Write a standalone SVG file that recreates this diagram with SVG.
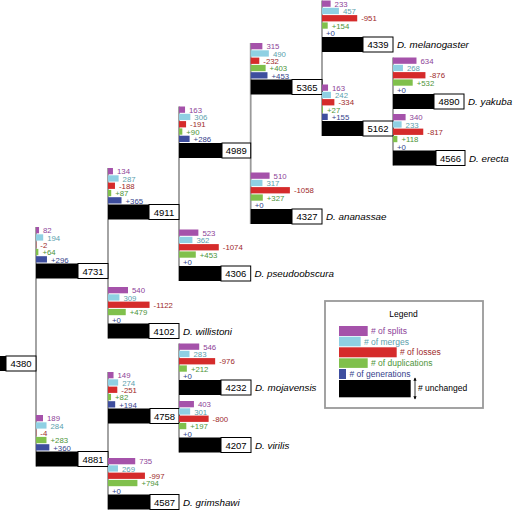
<svg xmlns="http://www.w3.org/2000/svg" width="513" height="510" viewBox="0 0 513 510">
<defs>
<style>
text{font-family:"Liberation Sans",Arial,sans-serif}
.lb{font-size:7.8px}
.num{font-size:9.5px;text-anchor:middle;fill:#000}
.sp{font-size:9.8px;font-style:italic;fill:#000}
.bs{fill:#a552aa}.bm{fill:#8fd0e3}.bl{fill:#d52b2b}.bd{fill:#80c04c}.bg{fill:#3e4e9e}
.ts{fill:#8d3f98}.tm{fill:#5b9fae}.tl{fill:#9e2a2a}.td{fill:#4e9438}.tg{fill:#353f8c}
.blk{fill:#000}
.box{fill:#fff;stroke:#000;stroke-width:1}
.conn line{stroke:#9a9a9a;stroke-width:1.8}
.lg{font-size:8.5px}
</style>
<marker id="ah" viewBox="0 0 6 6" refX="5" refY="3" markerWidth="4" markerHeight="4" orient="auto-start-reverse"><path d="M0,0 L6,3 L0,6 z" fill="#000"/></marker>
</defs>
<rect width="513" height="510" fill="#fff"/>

<g id="connectors" class="conn">
<line x1="36" y1="227" x2="36" y2="466.5"/>
<line x1="108" y1="168" x2="108" y2="338.5"/>
<line x1="108" y1="372" x2="108" y2="509.5"/>
<line x1="179" y1="106.5" x2="179" y2="281"/>
<line x1="179" y1="343.5" x2="179" y2="452.5"/>
<line x1="250.7" y1="43" x2="250.7" y2="224"/>
<line x1="322" y1="0.5" x2="322" y2="136"/>
<line x1="393" y1="57.5" x2="393" y2="165.5"/>
</g>

<g id="n4380" transform="translate(0,356)">
<rect class="blk" x="0" y="0" width="6" height="15"/>
<rect class="box" x="6" y="0" width="30" height="15"/>
<text class="num" x="21" y="11">4380</text>
</g>

<g id="n4731" transform="translate(36,227)">
<rect class="bs" x="0" y="0" width="3.04" height="6.3"/><text class="lb ts" x="7" y="6.3">82</text>
<rect class="bm" x="0" y="7.3" width="7.19" height="6.3"/><text class="lb tm" x="11.2" y="13.6">194</text>
<rect class="bl" x="0" y="14.6" width="0.3" height="6.3"/><text class="lb tl" x="4.3" y="20.9">-2</text>
<rect class="bd" x="0" y="21.9" width="2.37" height="6.3"/><text class="lb td" x="6.4" y="28.2">+64</text>
<rect class="bg" x="0" y="29.2" width="10.96" height="6.3"/><text class="lb tg" x="15" y="35.5">+296</text>
<rect class="blk" x="0" y="36.5" width="42" height="15"/>
<rect class="box" x="42" y="36.5" width="30" height="15"/>
<text class="num" x="57" y="47.5">4731</text>
</g>

<g id="n4881" transform="translate(36,415)">
<rect class="bs" x="0" y="0" width="7" height="6.3"/><text class="lb ts" x="11" y="6.3">189</text>
<rect class="bm" x="0" y="7.3" width="10.52" height="6.3"/><text class="lb tm" x="14.5" y="13.6">284</text>
<rect class="bl" x="0" y="14.6" width="0.3" height="6.3"/><text class="lb tl" x="4.3" y="20.9">-4</text>
<rect class="bd" x="0" y="21.9" width="10.48" height="6.3"/><text class="lb td" x="14.5" y="28.2">+283</text>
<rect class="bg" x="0" y="29.2" width="13.33" height="6.3"/><text class="lb tg" x="17.3" y="35.5">+360</text>
<rect class="blk" x="0" y="36.5" width="42" height="15"/>
<rect class="box" x="42" y="36.5" width="30" height="15"/>
<text class="num" x="57" y="47.5">4881</text>
</g>

<g id="n4911" transform="translate(108,168)">
<rect class="bs" x="0" y="0" width="4.96" height="6.3"/><text class="lb ts" x="9" y="6.3">134</text>
<rect class="bm" x="0" y="7.3" width="10.63" height="6.3"/><text class="lb tm" x="14.6" y="13.6">287</text>
<rect class="bl" x="0" y="14.6" width="6.96" height="6.3"/><text class="lb tl" x="11" y="20.9">-188</text>
<rect class="bd" x="0" y="21.9" width="3.22" height="6.3"/><text class="lb td" x="7.2" y="28.2">+87</text>
<rect class="bg" x="0" y="29.2" width="13.52" height="6.3"/><text class="lb tg" x="17.5" y="35.5">+365</text>
<rect class="blk" x="0" y="36.5" width="41" height="15"/>
<rect class="box" x="41" y="36.5" width="30" height="15"/>
<text class="num" x="56" y="47.5">4911</text>
</g>

<g id="n4102" transform="translate(108,287)">
<rect class="bs" x="0" y="0" width="20" height="6.3"/><text class="lb ts" x="24" y="6.3">540</text>
<rect class="bm" x="0" y="7.3" width="11.44" height="6.3"/><text class="lb tm" x="15.4" y="13.6">309</text>
<rect class="bl" x="0" y="14.6" width="41.56" height="6.3"/><text class="lb tl" x="45.6" y="20.9">-1122</text>
<rect class="bd" x="0" y="21.9" width="17.74" height="6.3"/><text class="lb td" x="21.7" y="28.2">+479</text>
<text class="lb tg" x="4" y="35.5">+0</text>
<rect class="blk" x="0" y="36.5" width="41" height="15"/>
<rect class="box" x="41" y="36.5" width="30" height="15"/>
<text class="num" x="56" y="47.5">4102</text>
<text class="sp" x="75" y="47.5">D. willistoni</text>
</g>

<g id="n4758" transform="translate(108,372)">
<rect class="bs" x="0" y="0" width="5.52" height="6.3"/><text class="lb ts" x="9.5" y="6.3">149</text>
<rect class="bm" x="0" y="7.3" width="10.15" height="6.3"/><text class="lb tm" x="14.2" y="13.6">274</text>
<rect class="bl" x="0" y="14.6" width="9.3" height="6.3"/><text class="lb tl" x="13.3" y="20.9">-251</text>
<rect class="bd" x="0" y="21.9" width="3.04" height="6.3"/><text class="lb td" x="7" y="28.2">+82</text>
<rect class="bg" x="0" y="29.2" width="7.19" height="6.3"/><text class="lb tg" x="11.2" y="35.5">+194</text>
<rect class="blk" x="0" y="36.5" width="42" height="15"/>
<rect class="box" x="42" y="36.5" width="29" height="15"/>
<text class="num" x="56.5" y="47.5">4758</text>
</g>

<g id="n4587" transform="translate(108,458)">
<rect class="bs" x="0" y="0" width="27.22" height="6.3"/><text class="lb ts" x="31.2" y="6.3">735</text>
<rect class="bm" x="0" y="7.3" width="9.96" height="6.3"/><text class="lb tm" x="14" y="13.6">269</text>
<rect class="bl" x="0" y="14.6" width="36.93" height="6.3"/><text class="lb tl" x="40.9" y="20.9">-997</text>
<rect class="bd" x="0" y="21.9" width="29.41" height="6.3"/><text class="lb td" x="33.4" y="28.2">+794</text>
<text class="lb tg" x="4" y="35.5">+0</text>
<rect class="blk" x="0" y="36.5" width="42" height="15"/>
<rect class="box" x="42" y="36.5" width="29" height="15"/>
<text class="num" x="56.5" y="47.5">4587</text>
<text class="sp" x="75" y="47.5">D. grimshawi</text>
</g>

<g id="n4989" transform="translate(179,106.5)">
<rect class="bs" x="0" y="0" width="6.04" height="6.3"/><text class="lb ts" x="10" y="6.3">163</text>
<rect class="bm" x="0" y="7.3" width="11.33" height="6.3"/><text class="lb tm" x="15.3" y="13.6">306</text>
<rect class="bl" x="0" y="14.6" width="7.07" height="6.3"/><text class="lb tl" x="11.1" y="20.9">-191</text>
<rect class="bd" x="0" y="21.9" width="3.33" height="6.3"/><text class="lb td" x="7.3" y="28.2">+90</text>
<rect class="bg" x="0" y="29.2" width="10.59" height="6.3"/><text class="lb tg" x="14.6" y="35.5">+286</text>
<rect class="blk" x="0" y="36.5" width="43" height="15"/>
<rect class="box" x="43" y="36.5" width="28.7" height="15"/>
<text class="num" x="57.35" y="47.5">4989</text>
</g>

<g id="n4306" transform="translate(179,229.5)">
<rect class="bs" x="0" y="0" width="19.37" height="6.3"/><text class="lb ts" x="23.4" y="6.3">523</text>
<rect class="bm" x="0" y="7.3" width="13.41" height="6.3"/><text class="lb tm" x="17.4" y="13.6">362</text>
<rect class="bl" x="0" y="14.6" width="39.78" height="6.3"/><text class="lb tl" x="43.8" y="20.9">-1074</text>
<rect class="bd" x="0" y="21.9" width="16.78" height="6.3"/><text class="lb td" x="20.8" y="28.2">+453</text>
<text class="lb tg" x="4" y="35.5">+0</text>
<rect class="blk" x="0" y="36.5" width="42" height="15"/>
<rect class="box" x="42" y="36.5" width="29.7" height="15"/>
<text class="num" x="56.85" y="47.5">4306</text>
<text class="sp" x="75.5" y="47.5">D. pseudoobscura</text>
</g>

<g id="n4232" transform="translate(179,343.5)">
<rect class="bs" x="0" y="0" width="20.22" height="6.3"/><text class="lb ts" x="24.2" y="6.3">546</text>
<rect class="bm" x="0" y="7.3" width="10.48" height="6.3"/><text class="lb tm" x="14.5" y="13.6">283</text>
<rect class="bl" x="0" y="14.6" width="36.15" height="6.3"/><text class="lb tl" x="40.2" y="20.9">-976</text>
<rect class="bd" x="0" y="21.9" width="7.85" height="6.3"/><text class="lb td" x="11.9" y="28.2">+212</text>
<text class="lb tg" x="4" y="35.5">+0</text>
<rect class="blk" x="0" y="36.5" width="42" height="15"/>
<rect class="box" x="42" y="36.5" width="30" height="15"/>
<text class="num" x="57" y="47.5">4232</text>
<text class="sp" x="76" y="47.5">D. mojavensis</text>
</g>

<g id="n4207" transform="translate(179,401)">
<rect class="bs" x="0" y="0" width="14.93" height="6.3"/><text class="lb ts" x="18.9" y="6.3">403</text>
<rect class="bm" x="0" y="7.3" width="11.15" height="6.3"/><text class="lb tm" x="15.2" y="13.6">301</text>
<rect class="bl" x="0" y="14.6" width="29.63" height="6.3"/><text class="lb tl" x="33.6" y="20.9">-800</text>
<rect class="bd" x="0" y="21.9" width="7.3" height="6.3"/><text class="lb td" x="11.3" y="28.2">+197</text>
<text class="lb tg" x="4" y="35.5">+0</text>
<rect class="blk" x="0" y="36.5" width="42" height="15"/>
<rect class="box" x="42" y="36.5" width="30" height="15"/>
<text class="num" x="57" y="47.5">4207</text>
<text class="sp" x="76" y="47.5">D. virilis</text>
</g>

<g id="n5365" transform="translate(250.7,43)">
<rect class="bs" x="0" y="0" width="11.67" height="6.3"/><text class="lb ts" x="15.7" y="6.3">315</text>
<rect class="bm" x="0" y="7.3" width="18.15" height="6.3"/><text class="lb tm" x="22.2" y="13.6">490</text>
<rect class="bl" x="0" y="14.6" width="8.59" height="6.3"/><text class="lb tl" x="12.6" y="20.9">-232</text>
<rect class="bd" x="0" y="21.9" width="14.93" height="6.3"/><text class="lb td" x="18.9" y="28.2">+403</text>
<rect class="bg" x="0" y="29.2" width="16.78" height="6.3"/><text class="lb tg" x="20.8" y="35.5">+453</text>
<rect class="blk" x="0" y="36.5" width="41.3" height="15"/>
<rect class="box" x="41.3" y="36.5" width="30" height="15"/>
<text class="num" x="56.3" y="47.5">5365</text>
</g>

<g id="n4327" transform="translate(250.7,172.5)">
<rect class="bs" x="0" y="0" width="18.89" height="6.3"/><text class="lb ts" x="22.9" y="6.3">510</text>
<rect class="bm" x="0" y="7.3" width="11.74" height="6.3"/><text class="lb tm" x="15.7" y="13.6">317</text>
<rect class="bl" x="0" y="14.6" width="39.19" height="6.3"/><text class="lb tl" x="43.2" y="20.9">-1058</text>
<rect class="bd" x="0" y="21.9" width="12.11" height="6.3"/><text class="lb td" x="16.1" y="28.2">+327</text>
<text class="lb tg" x="4" y="35.5">+0</text>
<rect class="blk" x="0" y="36.5" width="41.3" height="15"/>
<rect class="box" x="41.3" y="36.5" width="30" height="15"/>
<text class="num" x="56.3" y="47.5">4327</text>
<text class="sp" x="75.3" y="47.5">D. ananassae</text>
</g>

<g id="n4339" transform="translate(322,0.5)">
<rect class="bs" x="0" y="0" width="8.63" height="6.3"/><text class="lb ts" x="12.6" y="6.3">233</text>
<rect class="bm" x="0" y="7.3" width="16.93" height="6.3"/><text class="lb tm" x="20.9" y="13.6">457</text>
<rect class="bl" x="0" y="14.6" width="35.22" height="6.3"/><text class="lb tl" x="39.2" y="20.9">-951</text>
<rect class="bd" x="0" y="21.9" width="5.7" height="6.3"/><text class="lb td" x="9.7" y="28.2">+154</text>
<text class="lb tg" x="4" y="35.5">+0</text>
<rect class="blk" x="0" y="36.5" width="41" height="15"/>
<rect class="box" x="41" y="36.5" width="30" height="15"/>
<text class="num" x="56" y="47.5">4339</text>
<text class="sp" x="75" y="47.5">D. melanogaster</text>
</g>

<g id="n5162" transform="translate(322,84.5)">
<rect class="bs" x="0" y="0" width="6.04" height="6.3"/><text class="lb ts" x="10" y="6.3">163</text>
<rect class="bm" x="0" y="7.3" width="8.96" height="6.3"/><text class="lb tm" x="13" y="13.6">242</text>
<rect class="bl" x="0" y="14.6" width="12.37" height="6.3"/><text class="lb tl" x="16.4" y="20.9">-334</text>
<rect class="bd" x="0" y="21.9" width="1" height="6.3"/><text class="lb td" x="5" y="28.2">+27</text>
<rect class="bg" x="0" y="29.2" width="5.74" height="6.3"/><text class="lb tg" x="9.7" y="35.5">+155</text>
<rect class="blk" x="0" y="36.5" width="41" height="15"/>
<rect class="box" x="41" y="36.5" width="30" height="15"/>
<text class="num" x="56" y="47.5">5162</text>
</g>

<g id="n4890" transform="translate(393,57.5)">
<rect class="bs" x="0" y="0" width="23.48" height="6.3"/><text class="lb ts" x="27.5" y="6.3">634</text>
<rect class="bm" x="0" y="7.3" width="9.93" height="6.3"/><text class="lb tm" x="13.9" y="13.6">268</text>
<rect class="bl" x="0" y="14.6" width="32.44" height="6.3"/><text class="lb tl" x="36.4" y="20.9">-876</text>
<rect class="bd" x="0" y="21.9" width="19.7" height="6.3"/><text class="lb td" x="23.7" y="28.2">+532</text>
<text class="lb tg" x="4" y="35.5">+0</text>
<rect class="blk" x="0" y="36.5" width="41" height="15"/>
<rect class="box" x="41" y="36.5" width="30" height="15"/>
<text class="num" x="56" y="47.5">4890</text>
<text class="sp" x="75" y="47.5">D. yakuba</text>
</g>

<g id="n4566" transform="translate(393,114)">
<rect class="bs" x="0" y="0" width="12.59" height="6.3"/><text class="lb ts" x="16.6" y="6.3">340</text>
<rect class="bm" x="0" y="7.3" width="8.63" height="6.3"/><text class="lb tm" x="12.6" y="13.6">233</text>
<rect class="bl" x="0" y="14.6" width="30.26" height="6.3"/><text class="lb tl" x="34.3" y="20.9">-817</text>
<rect class="bd" x="0" y="21.9" width="4.37" height="6.3"/><text class="lb td" x="8.4" y="28.2">+118</text>
<text class="lb tg" x="4" y="35.5">+0</text>
<rect class="blk" x="0" y="36.5" width="43" height="15"/>
<rect class="box" x="43" y="36.5" width="29" height="15"/>
<text class="num" x="57.5" y="47.5">4566</text>
<text class="sp" x="76" y="47.5">D. erecta</text>
</g>

<g id="legend">
<rect x="325" y="301" width="158" height="107" fill="#fff" stroke="#999" stroke-width="1.8"/>
<text class="lg" x="403.5" y="317" text-anchor="middle" fill="#000">Legend</text>
<rect class="bs" x="339" y="326" width="28.7" height="10"/><text class="lg ts" x="371" y="334">&#35; of splits</text>
<rect class="bm" x="339" y="336.7" width="21.7" height="9.6"/><text class="lg tm" x="364" y="344.5">&#35; of merges</text>
<rect class="bl" x="339" y="347.3" width="57.7" height="10"/><text class="lg tl" x="400" y="355">&#35; of losses</text>
<rect class="bd" x="339" y="358.3" width="28.7" height="9.6"/><text class="lg td" x="371" y="366">&#35; of duplications</text>
<rect class="bg" x="339" y="369" width="7" height="10"/><text class="lg tg" x="349.5" y="376.5">&#35; of generations</text>
<rect class="blk" x="339" y="380" width="71.7" height="17.3"/>
<line x1="415" y1="378" x2="415" y2="399" stroke="#000" stroke-width="0.8" marker-start="url(#ah)" marker-end="url(#ah)"/>
<text class="lg" x="418" y="391" fill="#000">&#35; unchanged</text>
</g>
</svg>
